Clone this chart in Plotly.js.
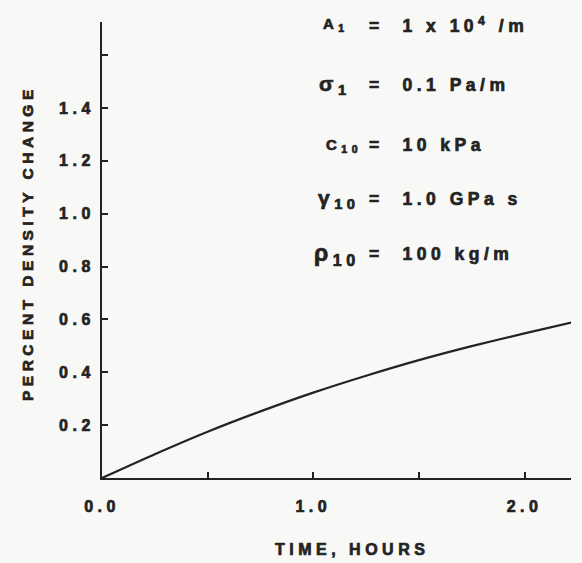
<!DOCTYPE html>
<html>
<head>
<meta charset="utf-8">
<script src="https://cdn.plot.ly/plotly-3.0.1.min.js"></script>
<style>
  html, body { margin: 0; padding: 0; background: #f8f9f7; }
  #chart { width: 582px; height: 563px; }
  text { letter-spacing: 4.5px; stroke: #232323; stroke-width: 0.7px; paint-order: stroke; }
</style>
</head>
<body>
<div id="chart"></div>
<script>
// Data
var timeHours = [0, 0.25, 0.5, 0.75, 1.0, 1.25, 1.5, 1.75, 2.0, 2.23];
var densityChange = [0, 0.09, 0.175, 0.252, 0.323, 0.387, 0.446, 0.499, 0.547, 0.59];

var xTickVals = [0, 1.0, 2.0];
var xTickText = ["0.0", "1.0", "2.0"];
var xMinorTicks = [0.5, 1.5];
var yTickVals = [0.2, 0.4, 0.6, 0.8, 1.0, 1.2, 1.4];
var yTickText = ["0.2", "0.4", "0.6", "0.8", "1.0", "1.2", "1.4"];
var yMinorTicks = [1.6];

var xTitle = "TIME, HOURS";
var yTitle = "PERCENT DENSITY CHANGE";

var paramSymbols = ["A<sub>1</sub>", "\u03C3<sub>1</sub>", "C<sub>10</sub>", "\u03B3<sub>10</sub>", "\u03C1<sub>10</sub>"];
var paramValues = ["=  1 x 10<sup>4</sup> /m", "=  0.1 Pa/m", "=  10 kPa", "=  1.0 GPa s", "=  100 kg/m"];

var ink = "#232323";
var fontFam = "Liberation Sans, Arial, sans-serif";

// Layout geometry (pixels)
var W = 582, H = 563;
var mL = 102, mR = 11, mT = 22, mB = 85;
var plotW = W - mL - mR, plotH = H - mT - mB;
function px2paperX(px) { return (px - mL) / plotW; }
function py2paperY(py) { return (H - mB - py) / plotH; }

var labelFont = { family: fontFam, size: 16, color: ink, weight: 700 };

var rowY = [25, 85, 145, 199, 254];
var symRight = [351, 353, 364, 362, 362];
var symSize = [15, 21, 15, 21, 23];

var annotations = [];
for (var i = 0; i < paramSymbols.length; i++) {
  annotations.push({
    xref: "paper", yref: "paper",
    x: px2paperX(symRight[i]), y: py2paperY(rowY[i]),
    xanchor: "right", yanchor: "middle",
    text: paramSymbols[i], showarrow: false,
    font: { family: fontFam, size: symSize[i], color: ink, weight: 700 }
  });
  annotations.push({
    xref: "paper", yref: "paper",
    x: px2paperX(367), y: py2paperY(rowY[i]),
    xanchor: "left", yanchor: "middle",
    text: paramValues[i], showarrow: false,
    font: { family: fontFam, size: 17.5, color: ink, weight: 700 }
  });
}
// axis titles placed precisely
annotations.push({
  xref: "paper", yref: "paper",
  x: px2paperX(352), y: py2paperY(549),
  xanchor: "center", yanchor: "middle",
  text: xTitle, showarrow: false, font: labelFont
});
annotations.push({
  xref: "paper", yref: "paper",
  x: px2paperX(27), y: py2paperY(243),
  xanchor: "center", yanchor: "middle", textangle: -90,
  text: yTitle, showarrow: false,
  font: { family: fontFam, size: 15.5, color: ink, weight: 700 }
});

var trace = {
  x: timeHours,
  y: densityChange,
  type: "scatter",
  mode: "lines",
  line: { color: ink, width: 2.2, shape: "spline", smoothing: 0.8 },
  hoverinfo: "skip"
};

var layout = {
  width: W, height: H,
  margin: { l: mL, r: mR, t: mT, b: mB },
  paper_bgcolor: "#f8f9f7",
  plot_bgcolor: "#f8f9f7",
  showlegend: false,
  font: labelFont,
  xaxis: {
    range: [0, 2.22],
    tickmode: "array", tickvals: xTickVals, ticktext: xTickText,
    ticks: "inside", ticklen: 6, tickwidth: 2, tickcolor: ink,
    minor: { tickmode: "array", tickvals: xMinorTicks, ticks: "inside", ticklen: 6, tickwidth: 2, tickcolor: ink, showgrid: false },
    showline: true, linecolor: ink, linewidth: 2,
    showgrid: false, zeroline: false,
    tickfont: labelFont,
    ticklabelstandoff: 13,
    fixedrange: true
  },
  yaxis: {
    range: [0, 1.725],
    tickmode: "array", tickvals: yTickVals, ticktext: yTickText,
    ticks: "inside", ticklen: 6, tickwidth: 2, tickcolor: ink,
    minor: { tickmode: "array", tickvals: yMinorTicks, ticks: "inside", ticklen: 6, tickwidth: 2, tickcolor: ink, showgrid: false },
    showline: true, linecolor: ink, linewidth: 2,
    showgrid: false, zeroline: false,
    tickfont: labelFont,
    ticklabelstandoff: 2,
    fixedrange: true
  },
  annotations: annotations
};

Plotly.newPlot("chart", [trace], layout, { displayModeBar: false, staticPlot: true });
</script>
</body>
</html>
